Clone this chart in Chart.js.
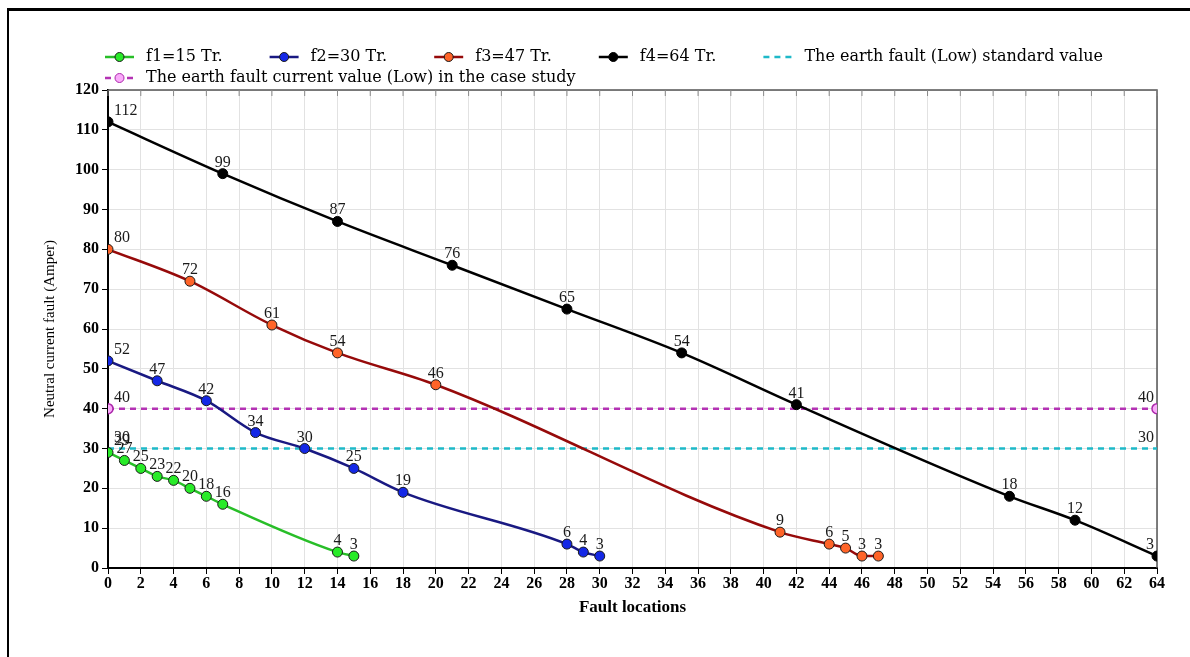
<!DOCTYPE html>
<html>
<head>
<meta charset="utf-8">
<script src="https://cdn.jsdelivr.net/npm/chart.js@4.4.0/dist/chart.umd.min.js"></script>
<style>
    html, body { margin: 0; padding: 0; background: #fff; }
    #wrap { position: relative; width: 1190px; height: 657px; }
    #frame { position: absolute; left: 7px; top: 8px; right: 0; bottom: 0; border-top: 3px solid #000; border-left: 2px solid #000; pointer-events: none; }
</style>
</head>
<body>
<div id="wrap"><canvas id="fault" width="1190" height="657"></canvas><div id="frame"></div></div>
<script>
//! values
var f1X = [0, 1, 2, 3, 4, 5, 6, 7, 14, 15];
var f1Y = [29, 27, 25, 23, 22, 20, 18, 16, 4, 3];
var f2X = [0, 3, 6, 9, 12, 15, 18, 28, 29, 30];
var f2Y = [52, 47, 42, 34, 30, 25, 19, 6, 4, 3];
var f3X = [0, 5, 10, 14, 20, 41, 44, 45, 46, 47];
var f3Y = [80, 72, 61, 54, 46, 9, 6, 5, 3, 3];
var f4X = [0, 7, 14, 21, 28, 35, 42, 55, 59, 64];
var f4Y = [112, 99, 87, 76, 65, 54, 41, 18, 12, 3];
var stdX = [0, 64];
var stdY = [30, 30];
var caseX = [0, 64];
var caseY = [40, 40];
var seriesNames = ['f1=15 Tr.', 'f2=30 Tr.', 'f3=47 Tr.', 'f4=64 Tr.',
    'The earth fault (Low) standard value',
    'The earth fault current value (Low) in the case study'];

function pts(xs, ys) {
    return xs.map(function (x, i) { return { x: x, y: ys[i] }; });
}

//! value labels above points
var valueLabels = {
    id: 'valueLabels',
    afterDatasetsDraw: function (chart) {
        var ctx = chart.ctx, area = chart.chartArea;
        ctx.save();
        ctx.font = '16px "Liberation Serif"';
        ctx.fillStyle = '#1a1a1a';
        ctx.textBaseline = 'alphabetic';
        chart.data.datasets.forEach(function (ds, i) {
            var meta = chart.getDatasetMeta(i);
            meta.data.forEach(function (pt, j) {
                var x = pt.x;
                if (x <= area.left + 1) { ctx.textAlign = 'left'; x += 6; }
                else if (x >= area.right - 1) { ctx.textAlign = 'right'; x -= 3; }
                else { ctx.textAlign = 'center'; }
                ctx.fillText(String(ds.data[j].y), x, pt.y - 7);
            });
        });
        ctx.restore();
    }
};

//! plot box top/right edges + inner ticks on top
var plotBox = {
    id: 'plotBox',
    beforeDatasetsDraw: function (chart) {
        var ctx = chart.ctx, a = chart.chartArea, sx = chart.scales.x;
        ctx.save();
        ctx.strokeStyle = '#555';
        ctx.lineWidth = 1.5;
        ctx.beginPath();
        ctx.moveTo(a.left, a.top);
        ctx.lineTo(a.right, a.top);
        ctx.lineTo(a.right, a.bottom);
        ctx.stroke();
        ctx.lineWidth = 1;
        ctx.strokeStyle = '#888';
        sx.ticks.forEach(function (t) {
            var px = sx.getPixelForValue(t.value);
            ctx.beginPath();
            ctx.moveTo(px, a.top);
            ctx.lineTo(px, a.top + 6);
            ctx.stroke();
        });
        ctx.restore();
    }
};

//! legend drawn by hand (line + marker symbol)
var lineLegend = {
    id: 'lineLegend',
    afterDraw: function (chart, args, opts) {
        var ctx = chart.ctx;
        ctx.save();
        ctx.font = opts.font;
        ctx.textBaseline = 'middle';
        ctx.textAlign = 'left';
        opts.rows.forEach(function (row, r) {
            var x = opts.left;
            var y = opts.top + r * opts.rowHeight;
            row.forEach(function (i) {
                var ds = chart.data.datasets[i];
                ctx.strokeStyle = ds.borderColor;
                ctx.lineWidth = 2.5;
                ctx.setLineDash(ds.borderDash || []);
                ctx.beginPath();
                ctx.moveTo(x, y);
                ctx.lineTo(x + opts.symbol, y);
                ctx.stroke();
                ctx.setLineDash([]);
                if (ds.pointRadius > 0) {
                    ctx.beginPath();
                    ctx.arc(x + opts.symbol / 2, y, 4.5, 0, Math.PI * 2);
                    ctx.fillStyle = ds.pointBackgroundColor;
                    ctx.fill();
                    ctx.lineWidth = 1;
                    ctx.strokeStyle = ds.pointBorderColor;
                    ctx.stroke();
                }
                ctx.fillStyle = '#000';
                var tx = x + opts.symbol + opts.textGap;
                ctx.fillText(ds.label, tx, y);
                x = tx + ctx.measureText(ds.label).width + opts.itemGap;
            });
        });
        ctx.restore();
    }
};

document.addEventListener('DOMContentLoaded', function () {
    var ctx = document.getElementById('fault').getContext('2d');
    var tickFont = { family: '"Liberation Serif"', size: 16, weight: 'bold' };

    var faultChart = new Chart(ctx, {
        type: 'line',
        data: {
            datasets: [
                {
                    label: seriesNames[0],
                    data: pts(f1X, f1Y),
                    borderColor: 'rgb(40, 190, 40)',
                    pointBackgroundColor: 'rgb(40, 235, 40)',
                    pointBorderColor: '#1a1a1a',
                    borderWidth: 2.5,
                    pointRadius: 5,
                    pointBorderWidth: 1,
                    cubicInterpolationMode: 'monotone',
                    fill: false
                },
                {
                    label: seriesNames[1],
                    data: pts(f2X, f2Y),
                    borderColor: 'rgb(25, 25, 130)',
                    pointBackgroundColor: 'rgb(20, 40, 230)',
                    pointBorderColor: '#1a1a1a',
                    borderWidth: 2.5,
                    pointRadius: 5,
                    pointBorderWidth: 1,
                    cubicInterpolationMode: 'monotone',
                    fill: false
                },
                {
                    label: seriesNames[2],
                    data: pts(f3X, f3Y),
                    borderColor: 'rgb(150, 10, 10)',
                    pointBackgroundColor: 'rgb(255, 100, 40)',
                    pointBorderColor: '#1a1a1a',
                    borderWidth: 2.5,
                    pointRadius: 5,
                    pointBorderWidth: 1,
                    cubicInterpolationMode: 'monotone',
                    fill: false
                },
                {
                    label: seriesNames[3],
                    data: pts(f4X, f4Y),
                    borderColor: '#000',
                    pointBackgroundColor: '#000',
                    pointBorderColor: '#000',
                    borderWidth: 2.5,
                    pointRadius: 5,
                    pointBorderWidth: 1,
                    cubicInterpolationMode: 'monotone',
                    fill: false
                },
                {
                    label: seriesNames[4],
                    data: pts(stdX, stdY),
                    borderColor: 'rgb(30, 185, 200)',
                    borderDash: [6, 5],
                    borderWidth: 2.5,
                    pointRadius: 0,
                    fill: false
                },
                {
                    label: seriesNames[5],
                    data: pts(caseX, caseY),
                    borderColor: 'rgb(180, 50, 180)',
                    borderDash: [6, 5],
                    pointBackgroundColor: 'rgb(250, 170, 250)',
                    pointBorderColor: 'rgb(170, 40, 170)',
                    borderWidth: 2.5,
                    pointRadius: 5,
                    pointBorderWidth: 1.5,
                    fill: false
                }]
        },
        options: {
            responsive: false,
            animation: false,
            layout: { padding: { top: 90, left: 36, right: 33, bottom: 30 } },
            plugins: {
                legend: { display: false },
                tooltip: { enabled: false },
                lineLegend: {
                    rows: [[0, 1, 2, 3, 4], [5]],
                    left: 105,
                    top: 57,
                    rowHeight: 21,
                    symbol: 29,
                    textGap: 12,
                    itemGap: 47,
                    font: '16px "DejaVu Serif"'
                }
            },
            scales: {
                x: {
                    type: 'linear',
                    position: 'bottom',
                    min: 0,
                    max: 64,
                    afterFit: function (s) { s.height = 59; },
                    ticks: { stepSize: 2, color: '#000', font: tickFont, padding: 0, maxRotation: 0, autoSkip: false },
                    grid: { color: '#e2e2e2', tickColor: '#000', tickLength: 6, lineWidth: 1 },
                    border: { color: '#000', width: 2 },
                    title: {
                        display: true,
                        text: 'Fault locations',
                        color: '#000',
                        font: { family: '"Liberation Serif"', size: 17, weight: 'bold' },
                        padding: { top: 0, bottom: 9 }
                    }
                },
                y: {
                    min: 0,
                    max: 120,
                    afterFit: function (s) { s.width = 72; },
                    ticks: { stepSize: 10, color: '#000', font: tickFont, padding: 3 },
                    grid: { color: '#e2e2e2', tickColor: '#000', tickLength: 6, lineWidth: 1 },
                    border: { color: '#000', width: 2 },
                    title: {
                        display: true,
                        text: 'Neutral current fault (Amper)',
                        color: '#000',
                        font: { family: '"Liberation Serif"', size: 15 },
                        padding: { top: 5, bottom: 0 }
                    }
                }
            }
        },
        plugins: [plotBox, valueLabels, lineLegend]
    });
});
</script>
</body>
</html>
